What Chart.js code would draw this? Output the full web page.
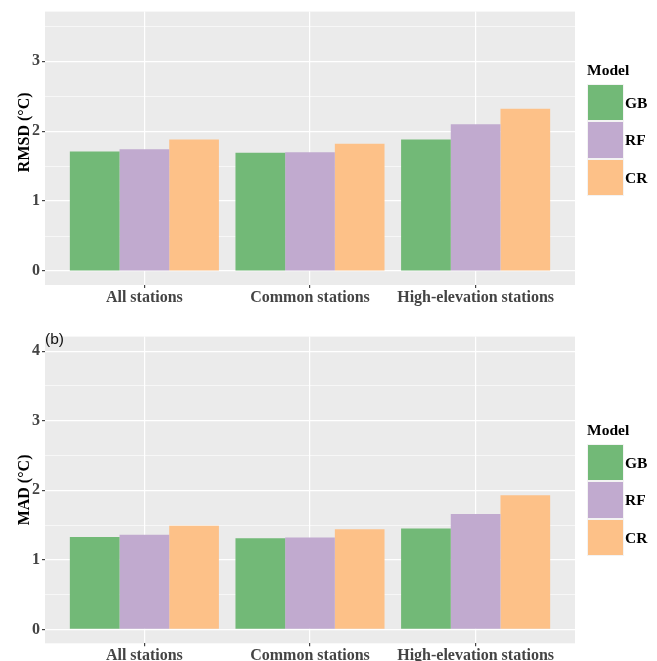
<!DOCTYPE html>
<html>
<head>
<meta charset="utf-8">
<script src="https://cdn.jsdelivr.net/npm/chart.js@4.4.0/dist/chart.umd.min.js"></script>
<style>
  html, body { margin: 0; padding: 0; background: #fff; }
  body { width: 657px; height: 661px; position: relative; overflow: hidden; }
  canvas { position: absolute; left: 0; }
  .legend { position: absolute; left: 587px; font-family: "Liberation Serif", "Times New Roman", serif; font-weight: bold; color: #000; }
  .legend .title { font-size: 15.5px; line-height: 16px; height: 22px; }
  .legend .row { position: relative; height: 37.4px; }
  .legend .key { position: absolute; left: 0; top: 0; width: 37px; height: 37.4px; box-sizing: border-box; border: 1px solid #f3f3f3; }
  .legend .lab { position: absolute; left: 38px; top: 0; line-height: 37.4px; font-size: 15.5px; }
  #tagB { position: absolute; left: 45px; top: 331px; font-family: "Liberation Sans", Arial, sans-serif; font-size: 15.5px; line-height: 16px; color: #111; }
</style>
</head>
<body>
<canvas id="rmsdChart" width="657" height="325" style="top:0"></canvas>
<canvas id="madChart" width="657" height="336" style="top:325px"></canvas>
<div class="legend" id="legendTop" style="top:62px"></div>
<div class="legend" id="legendBottom" style="top:422px"></div>
<div id="tagB">(b)</div>
<script>
const categories = ["All stations", "Common stations", "High-elevation stations"];
const models = ["GB", "RF", "CR"];
const modelColors = ["#72B977", "#C1AACF", "#FDC188"];

// RMSD (top panel)
const rmsdGB = [1.71, 1.69, 1.88];
const rmsdRF = [1.74, 1.70, 2.10];
const rmsdCR = [1.88, 1.82, 2.32];
// MAD (bottom panel)
const madGB = [1.33, 1.31, 1.45];
const madRF = [1.36, 1.32, 1.66];
const madCR = [1.49, 1.44, 1.93];

const rmsdGrid = [0, 0.5, 1, 1.5, 2, 2.5, 3, 3.5];
const madGrid = [0, 0.5, 1, 1.5, 2, 2.5, 3, 3.5, 4];
const catTicks = [1, 2, 3];

const serif = "'Liberation Serif', 'Times New Roman', serif";

const panelBg = {
  id: "panelBg",
  beforeDraw(chart) {
    const { ctx, chartArea: a } = chart;
    ctx.save();
    ctx.fillStyle = "#EBEBEB";
    ctx.fillRect(a.left, a.top, a.right - a.left, a.bottom - a.top);
    ctx.restore();
  }
};

function makePanel(id, series, grid, yMax, yTitle, padTop, xHeight) {
  const isMajor = v => Number.isInteger(v);
  return new Chart(document.getElementById(id), {
    type: "bar",
    data: {
      datasets: series.map((vals, i) => ({
        label: models[i],
        data: vals.map((v, j) => ({ x: j + 1, y: v })),
        backgroundColor: modelColors[i],
        borderWidth: 0,
        categoryPercentage: 0.9,
        barPercentage: 1.0
      }))
    },
    options: {
      responsive: false,
      animation: false,
      devicePixelRatio: 1,
      layout: { padding: { left: 15, right: 82, top: padTop, bottom: 0 } },
      plugins: { legend: { display: false }, tooltip: { enabled: false } },
      scales: {
        x: {
          type: "linear",
          min: 0.4,
          max: 3.6,
          offset: false,
          afterBuildTicks: s => { s.ticks = catTicks.map(v => ({ value: v })); },
          afterFit: s => { s.height = xHeight; },
          border: { display: false },
          grid: { offset: false, color: "#ffffff", lineWidth: 1.2, tickColor: "#444", tickLength: 3, drawTicks: true },
          ticks: {
            autoSkip: false, maxRotation: 0, padding: 0,
            color: "#444",
            font: { family: serif, size: 16, weight: "bold" },
            callback: v => categories[v - 1]
          }
        },
        y: {
          min: -0.2,
          max: yMax,
          afterBuildTicks: s => { s.ticks = grid.map(v => ({ value: v })); },
          afterFit: s => { s.width = 30; },
          border: { display: false },
          grid: {
            color: "#ffffff",
            lineWidth: c => isMajor(c.tick.value) ? 1.2 : 0.6,
            tickColor: c => isMajor(c.tick.value) ? "#444" : "rgba(0,0,0,0)",
            tickLength: 3
          },
          ticks: {
            autoSkip: false, padding: 2,
            color: "#444",
            font: { family: serif, size: 16, weight: "bold" },
            callback: v => isMajor(v) ? String(v) : ""
          },
          title: {
            display: true, text: yTitle, color: "#000", padding: 0,
            font: { family: serif, size: 16, weight: "bold" }
          }
        }
      }
    },
    plugins: [panelBg]
  });
}

makePanel("rmsdChart", [rmsdGB, rmsdRF, rmsdCR], rmsdGrid, 3.71,
  "\u00A0".repeat(8) + "RMSD (°C)", 10, 40);
makePanel("madChart", [madGB, madRF, madCR], madGrid, 4.21,
  "MAD (°C)", 8.3, 17.7);

function buildLegend(id) {
  const el = document.getElementById(id);
  let html = '<div class="title">Model</div>';
  models.forEach((m, i) => {
    html += '<div class="row"><div class="key" style="background:' + modelColors[i] +
      '"></div><div class="lab">' + m + '</div></div>';
  });
  el.innerHTML = html;
}
buildLegend("legendTop");
buildLegend("legendBottom");
</script>
</body>
</html>
